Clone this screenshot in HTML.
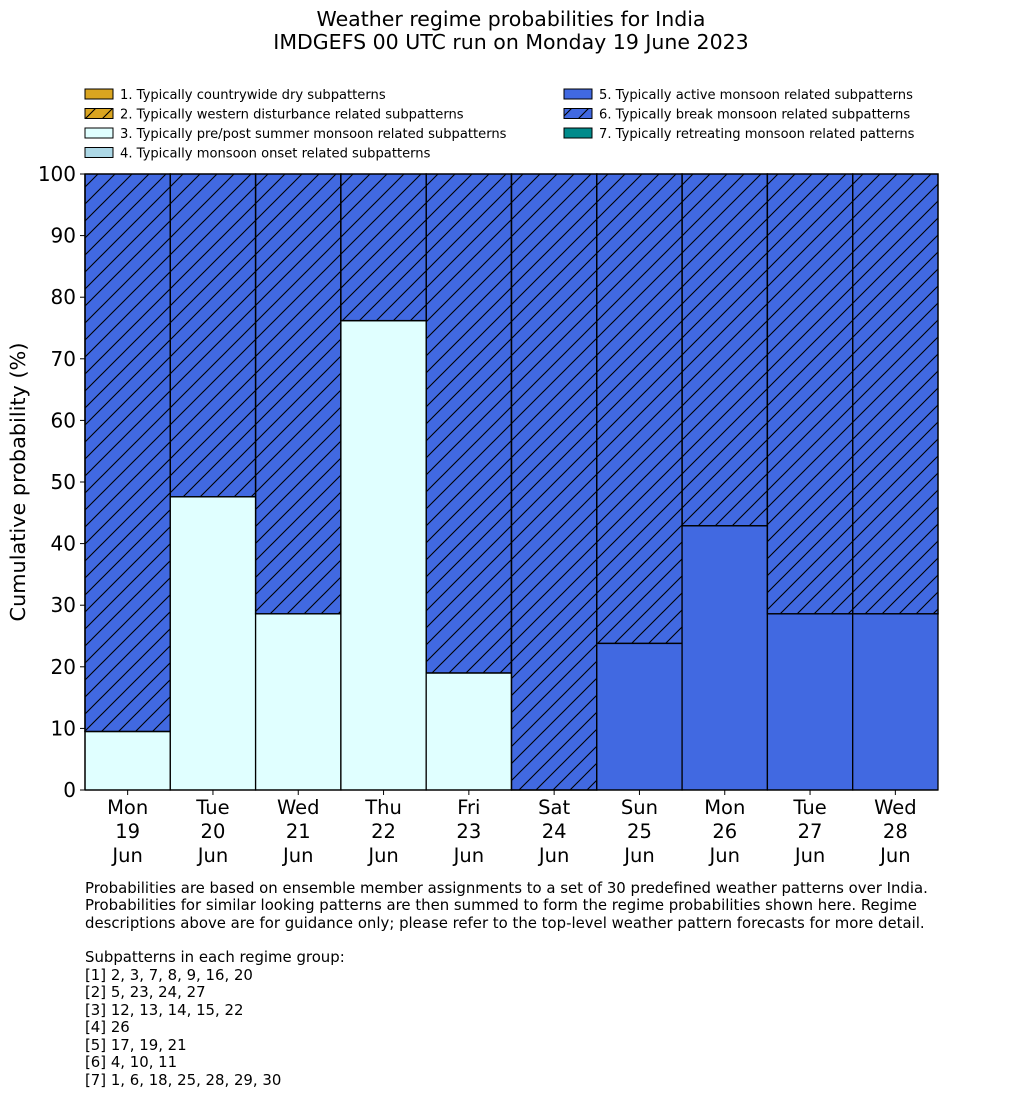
<!DOCTYPE html>
<html><head><meta charset="utf-8"><style>
body{margin:0;background:#fff;}
svg{display:block;font-family:"DejaVu Sans","Liberation Sans",sans-serif;}
</style></head><body>
<svg id="chart" width="1033" height="1114">
<defs>
<pattern id="hatch" patternUnits="userSpaceOnUse" width="17" height="17">
<line x1="0" y1="17" x2="17" y2="0" stroke="#000" stroke-width="1.1"/>
<line x1="-4" y1="4" x2="4" y2="-4" stroke="#000" stroke-width="1.1"/>
<line x1="13" y1="21" x2="21" y2="13" stroke="#000" stroke-width="1.1"/>
</pattern>
</defs>
<text x="511" y="26" text-anchor="middle" font-size="20.5">Weather regime probabilities for India</text>
<text x="511" y="49" text-anchor="middle" font-size="20.5">IMDGEFS 00 UTC run on Monday 19 June 2023</text>
<g id="legend"></g>
<g id="bars"></g>
<g id="axes"></g>
<text transform="translate(25,482) rotate(-90)" text-anchor="middle" font-size="20.8">Cumulative probability (%)</text>
<g font-size="14.9">
<text x="85" y="893">Probabilities are based on ensemble member assignments to a set of 30 predefined weather patterns over India.</text>
<text x="85" y="910">Probabilities for similar looking patterns are then summed to form the regime probabilities shown here. Regime</text>
<text x="85" y="928">descriptions above are for guidance only; please refer to the top-level weather pattern forecasts for more detail.</text>
<text x="85" y="962">Subpatterns in each regime group:</text>
<text x="85" y="980">[1] 2, 3, 7, 8, 9, 16, 20</text>
<text x="85" y="997">[2] 5, 23, 24, 27</text>
<text x="85" y="1015">[3] 12, 13, 14, 15, 22</text>
<text x="85" y="1032">[4] 26</text>
<text x="85" y="1050">[5] 17, 19, 21</text>
<text x="85" y="1067">[6] 4, 10, 11</text>
<text x="85" y="1085">[7] 1, 6, 18, 25, 28, 29, 30</text>
</g>
</svg>
<script>
const days=["Mon","Tue","Wed","Thu","Fri","Sat","Sun","Mon","Tue","Wed"];
const dates=["19","20","21","22","23","24","25","26","27","28"];
const month=["Jun","Jun","Jun","Jun","Jun","Jun","Jun","Jun","Jun","Jun"];
const r1=[0,0,0,0,0,0,0,0,0,0];
const r2=[0,0,0,0,0,0,0,0,0,0];
const r3=[9.5,47.6,28.6,76.2,19.0,0,0,0,0,0];
const r4=[0,0,0,0,0,0,0,0,0,0];
const r5=[0,0,0,0,0,0,23.8,42.9,28.6,28.6];
const r6=[90.5,52.4,71.4,23.8,81.0,100,76.2,57.1,71.4,71.4];
const r7=[0,0,0,0,0,0,0,0,0,0];
const yTicks=[0,10,20,30,40,50,60,70,80,90,100];
const legendLabels=["1. Typically countrywide dry subpatterns","2. Typically western disturbance related subpatterns","3. Typically pre/post summer monsoon related subpatterns","4. Typically monsoon onset related subpatterns","5. Typically active monsoon related subpatterns","6. Typically break monsoon related subpatterns","7. Typically retreating monsoon related patterns"];
const colors=["#daa520","#daa520","#e0ffff","#add8e6","#4169e1","#4169e1","#008b8b"];
const hatched=[false,true,false,false,false,true,false];
const series=[r1,r2,r3,r4,r5,r6,r7];
const NS="http://www.w3.org/2000/svg";
const X0=85,X1=938,Y0=790,Y1=174;
const bw=(X1-X0)/days.length;
const y=v=>Y0-(v/100)*(Y0-Y1);
const x=i=>X0+i*bw;
function mk(t,a,p){const e=document.createElementNS(NS,t);for(const k in a)e.setAttribute(k,a[k]);p.appendChild(e);return e;}
const bars=document.getElementById('bars');
for(let i=0;i<days.length;i++){
  let acc=0;
  for(let s=0;s<series.length;s++){
    const v=series[s][i]; if(!v) continue;
    const r=mk('rect',{x:x(i),y:y(acc+v),width:bw,height:y(acc)-y(acc+v),fill:colors[s],stroke:'#000','stroke-width':1.3},bars);
    
    
    if(hatched[s]){const h=mk('rect',{x:x(i),y:y(acc+v),width:bw,height:y(acc)-y(acc+v),fill:'url(#hatch)',stroke:'#000','stroke-width':1.3},bars);
      
      }
    acc+=v;
  }
}
const axes=document.getElementById('axes');
mk('line',{x1:X0,y1:Y0,x2:X0,y2:Y1,stroke:'#000','stroke-width':1.3},axes);
mk('line',{x1:X0,y1:Y0,x2:X1,y2:Y0,stroke:'#000','stroke-width':1.3},axes);
yTicks.forEach(t=>{
  mk('line',{x1:X0-5,y1:y(t),x2:X0,y2:y(t),stroke:'#000'},axes);
  const tx=mk('text',{x:X0-9,y:y(t)+7,'text-anchor':'end','font-size':20},axes);tx.textContent=t;
  
  
});
days.forEach((d,i)=>{
  const cx=x(i)+bw/2;
  mk('line',{x1:cx,y1:Y0,x2:cx,y2:Y0+5,stroke:'#000'},axes);
  [d,dates[i],month[i]].forEach((s,k)=>{const t=mk('text',{x:cx,y:814+k*24,'text-anchor':'middle','font-size':19.5},axes);t.textContent=s;
    
    });
});
const lg=document.getElementById('legend');
legendLabels.forEach((l,i)=>{
  const col=i<4?0:1,row=i<4?i:i-4;
  const lx=col?564:85, ly=89+row*19.5;
  mk('rect',{x:lx,y:ly,width:28,height:10,fill:colors[i],stroke:'#000'},lg);
  if(hatched[i])mk('rect',{x:lx,y:ly,width:28,height:10,fill:'url(#hatch)',stroke:'#000'},lg);
  const t=mk('text',{x:lx+35,y:ly+10,'font-size':13.1},lg);t.textContent=l;
  
  
});
</script>
</body></html>
